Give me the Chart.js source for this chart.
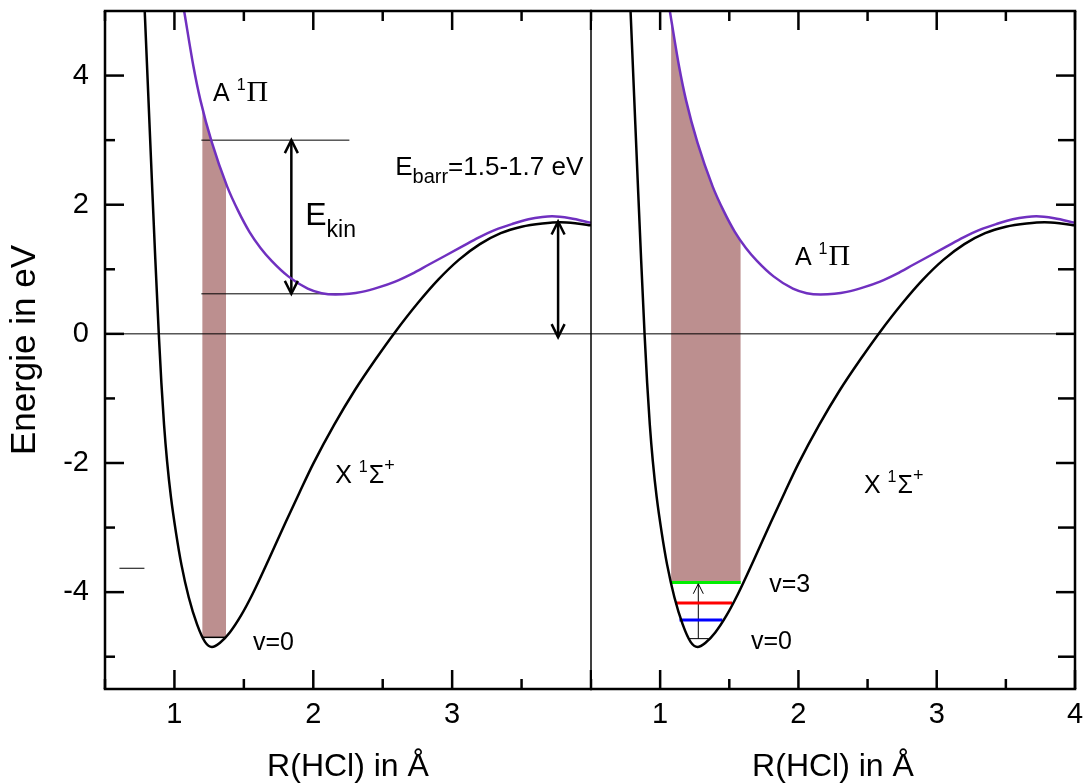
<!DOCTYPE html>
<html lang="de">
<head>
<meta charset="UTF-8">
<title>HCl Potentialkurven</title>
<script src="https://cdn.jsdelivr.net/npm/chart.js@4.4.1/dist/chart.umd.min.js"></script>
<style>
  html, body { margin: 0; padding: 0; background: #fff; }
  #wrap { position: relative; width: 1084px; height: 784px; overflow: hidden; }
  canvas { position: absolute; top: 0; }
  #leftChart { left: 0; }
  #rightChart { left: 590px; }
</style>
</head>
<body>
<div id="wrap">
  <canvas id="leftChart" width="592" height="784"></canvas>
  <canvas id="rightChart" width="494" height="784"></canvas>
</div>
<script>
// X 1Sigma+ ground state (R in Angstrom, E in eV)
const xR = [0.786, 0.812, 0.838, 0.862, 0.888, 0.906, 0.925, 0.947, 0.975, 1.012, 1.05, 1.103, 1.163, 1.22, 1.27, 1.33, 1.40, 1.48, 1.56, 1.68, 1.80, 1.90, 2.00, 2.15, 2.30, 2.45, 2.59, 2.75, 2.90, 3.05, 3.20, 3.35, 3.50, 3.65, 3.78, 3.90, 4.00];
const xE = [5.0, 3.68, 2.36, 1.17, -0.03, -0.76, -1.40, -1.97, -2.53, -3.09, -3.57, -4.08, -4.50, -4.77, -4.85, -4.78, -4.62, -4.36, -4.04, -3.49, -2.92, -2.46, -2.01, -1.41, -0.87, -0.39, 0.03, 0.47, 0.84, 1.15, 1.39, 1.56, 1.66, 1.71, 1.73, 1.71, 1.68];

// A 1Pi excited state
const aR = [1.07, 1.137, 1.187, 1.27, 1.38, 1.46, 1.54, 1.62, 1.70, 1.82, 1.96, 2.06, 2.16, 2.26, 2.35, 2.47, 2.59, 2.71, 2.83, 2.95, 3.07, 3.19, 3.31, 3.43, 3.55, 3.65, 3.72, 3.85, 4.00];
const aE = [5.0, 4.14, 3.62, 2.96, 2.28, 1.90, 1.58, 1.33, 1.13, 0.89, 0.70, 0.63, 0.61, 0.62, 0.65, 0.72, 0.81, 0.93, 1.07, 1.21, 1.35, 1.49, 1.61, 1.70, 1.775, 1.81, 1.82, 1.79, 1.72];

// Franck-Condon windows (edges where the shading meets the A curve)
const fcLeftEdges = [[1.20, 3.52], [1.372, 2.33]];
const fcRightEdges = [[1.079, 4.89], [1.583, 1.45]];
const fcLeftFloor = -4.70;   // v=0
const fcRightFloor = -3.85;  // v=3

// vibrational levels right panel: [Rstart, Rend, E]
const levelV0 = [1.21, 1.35, -4.72];
const levelV1 = [1.14, 1.45, -4.43];
const levelV2 = [1.108, 1.52, -4.17];
const levelV3 = [1.079, 1.583, -3.85];
const levelLeftV0 = [1.20, 1.372, -4.70];

// E_kin reference lines and arrows
const ekinLines = [[1.194, 2.26, 3.0], [1.194, 2.26, 0.62]];
const ekinArrow = [1.842, 3.0, 0.62];      // R, E top, E bottom
const barrArrow = [3.763, 1.74, -0.05];
const pumpArrow = [1.276, -4.72, -3.87];
const strayLine = [0.604, 0.784, -3.63];

// axes
const xMajor = [1, 2, 3, 4];
const xMinor = [0.5, 1.5, 2.5, 3.5];
const yMajor = [-4, -2, 0, 2, 4];
const yMinor = [-5, -3, -1, 1, 3];
const xLabelsLeft = [1, 2, 3];
const xLabelsRight = [1, 2, 3, 4];

const SANS = '"Liberation Sans", Arial, sans-serif';
const SERIF = '"Liberation Serif", "Times New Roman", serif';
Chart.defaults.font.family = SANS;
Chart.defaults.color = '#000';

const PURPLE = '#7030c0';
const FILL = '#bc8f8f';

const pts = (rs, es) => rs.map((r, i) => ({x: r, y: es[i]}));
const seg = (r0, r1, e) => [{x: r0, y: e}, {x: r1, y: e}];
const fcPoints = (edges) => [
  {x: edges[0][0], y: edges[0][1]},
  ...pts(aR, aE).filter(p => p.x > edges[0][0] && p.x < edges[1][0]),
  {x: edges[1][0], y: edges[1][1]}
];

const lineDs = (data, color, width, extra) => Object.assign({
  data, borderColor: color, borderWidth: width, pointRadius: 0,
  fill: false, tension: 0, order: 1
}, extra || {});

// frame + inward ticks
const framePlugin = {
  id: 'frame',
  afterDatasetsDraw(chart, args, o) {
    const {ctx, chartArea: a, scales: {x, y}} = chart;
    ctx.save();
    ctx.strokeStyle = '#000';
    const ln = (x1, y1, x2, y2, w) => {
      ctx.lineWidth = w; ctx.beginPath(); ctx.moveTo(x1, y1); ctx.lineTo(x2, y2); ctx.stroke();
    };
    xMajor.concat(xMinor).forEach(v => {
      const len = xMajor.includes(v) ? 19 : 10;
      const px = x.getPixelForValue(v);
      ln(px, a.bottom, px, a.bottom - len, 2.5);
      ln(px, a.top, px, a.top + len, 2.5);
    });
    yMajor.concat(yMinor).forEach(v => {
      const len = yMajor.includes(v) ? 19 : o.minorY;
      const py = y.getPixelForValue(v);
      if (o.ySide === 'left') ln(a.left, py, a.left + len, py, 2.5);
      else ln(a.right, py, a.right - len, py, 2.5);
    });
    ctx.lineCap = 'square';
    ln(a.left, a.top, a.right, a.top, 2.5);
    ln(a.left, a.bottom, a.right, a.bottom, 2.5);
    ctx.lineCap = 'butt';
    ln(a.left, a.top, a.left, a.bottom, o.left);
    ln(a.right, a.top, a.right, a.bottom, o.right);
    ctx.restore();
  }
};

// open arrow heads on datasets that ask for them
const arrowPlugin = {
  id: 'arrows',
  afterDatasetsDraw(chart) {
    const ctx = chart.ctx;
    chart.data.datasets.forEach((ds, i) => {
      if (!ds.heads) return;
      const el = chart.getDatasetMeta(i).data;
      const p0 = el[0], p1 = el[el.length - 1];
      const head = (tip, from) => {
        const dx = tip.x - from.x, dy = tip.y - from.y, d = Math.hypot(dx, dy);
        const ux = dx / d, uy = dy / d, L = ds.headLen, W = ds.headW;
        ctx.beginPath();
        ctx.moveTo(tip.x - ux * L - uy * W, tip.y - uy * L + ux * W);
        ctx.lineTo(tip.x, tip.y);
        ctx.lineTo(tip.x - ux * L + uy * W, tip.y - uy * L - ux * W);
        ctx.stroke();
      };
      ctx.save();
      ctx.strokeStyle = ds.borderColor;
      ctx.lineWidth = ds.borderWidth;
      ctx.lineJoin = 'miter';
      if (ds.heads.includes('end')) head(p1, p0);
      if (ds.heads.includes('start')) head(p0, p1);
      ctx.restore();
    });
  }
};

// text annotations anchored at data coordinates (left edge, baseline)
const textPlugin = {
  id: 'texts',
  afterDatasetsDraw(chart, args, o) {
    const {ctx, scales: {x, y}} = chart;
    ctx.save();
    ctx.fillStyle = '#000';
    ctx.textBaseline = 'alphabetic';
    ctx.textAlign = 'left';
    o.items.forEach(item => {
      let px = x.getPixelForValue(item.r);
      const py = y.getPixelForValue(item.e);
      item.runs.forEach(run => {
        ctx.font = `${run.size}px ${run.serif ? SERIF : SANS}`;
        ctx.fillText(run.t, px, py + (run.dy || 0));
        px += ctx.measureText(run.t).width + (run.gap || 0);
      });
    });
    ctx.restore();
  }
};

const stateA = [{t: 'A ', size: 25}, {t: '1', size: 16, dy: -11, gap: 1}, {t: 'Π', size: 30, serif: true}];
const stateX = [{t: 'X ', size: 25}, {t: '1', size: 16, dy: -11, gap: 1}, {t: 'Σ', size: 25}, {t: '+', size: 18, dy: -12}];

const xScale = (labels) => ({
  type: 'linear', min: 0.5, max: 4,
  afterBuildTicks: s => { s.ticks = labels.map(v => ({value: v})); },
  afterFit: s => { s.height = 95; s.paddingLeft = 0; s.paddingRight = 0; },
  grid: {display: false}, border: {display: false},
  ticks: {font: {size: 29}, padding: 1, maxRotation: 0},
  title: {display: true, text: 'R(HCl) in Å', font: {size: 32, lineHeight: 1}, padding: {top: 0, bottom: 1}}
});

const commonOpts = {
  responsive: false, animation: false, events: [],
  plugins: {legend: {display: false}, tooltip: {enabled: false}}
};

const curveSets = () => [
  lineDs(seg(0.5, 4, 0), '#000', 1),
  lineDs(pts(xR, xE), '#000', 2.5, {cubicInterpolationMode: 'monotone'}),
  lineDs(pts(aR, aE), PURPLE, 2.5, {cubicInterpolationMode: 'monotone'})
];

// left panel
new Chart(document.getElementById('leftChart'), {
  type: 'line',
  data: {
    datasets: [
      ...curveSets(),
      lineDs(seg(levelLeftV0[0], levelLeftV0[1], levelLeftV0[2]), '#000', 1.5),
      lineDs(seg(ekinLines[0][0], ekinLines[0][1], ekinLines[0][2]), '#000', 1),
      lineDs(seg(ekinLines[1][0], ekinLines[1][1], ekinLines[1][2]), '#000', 1),
      lineDs([{x: ekinArrow[0], y: ekinArrow[1]}, {x: ekinArrow[0], y: ekinArrow[2]}], '#000', 2.5,
        {heads: ['start', 'end'], headLen: 13, headW: 6.5}),
      lineDs([{x: barrArrow[0], y: barrArrow[1]}, {x: barrArrow[0], y: barrArrow[2]}], '#000', 2.5,
        {heads: ['start', 'end'], headLen: 13, headW: 6.5}),
      lineDs(seg(strayLine[0], strayLine[1], strayLine[2]), '#000', 1),
      lineDs(fcPoints(fcLeftEdges), FILL, 0,
        {fill: {value: fcLeftFloor}, backgroundColor: FILL, cubicInterpolationMode: 'monotone', order: 5})
    ]
  },
  options: Object.assign({}, commonOpts, {
    layout: {padding: {left: 0, right: 1, top: 11, bottom: 0}, autoPadding: false},
    scales: {
      x: xScale(xLabelsLeft),
      y: {
        type: 'linear', min: -5.5, max: 5,
        afterBuildTicks: s => { s.ticks = yMajor.map(v => ({value: v})); },
        afterFit: s => { s.width = 105; s.paddingTop = 0; s.paddingBottom = 0; },
        grid: {display: false}, border: {display: false},
        ticks: {font: {size: 29}, padding: 8},
        title: {display: true, text: 'Energie in eV', font: {size: 35, lineHeight: 1}, padding: {top: 8, bottom: 0}}
      }
    },
    plugins: Object.assign({}, commonOpts.plugins, {
      frame: {ySide: 'left', left: 2.5, right: 1, minorY: 10},
      texts: {items: [
        {r: 1.278, e: 3.606, runs: stateA},
        {r: 1.942, e: 1.686, runs: [{t: 'E', size: 32}, {t: 'kin', size: 23, dy: 12}]},
        {r: 2.59, e: 2.46, runs: [{t: 'E', size: 26}, {t: 'barr', size: 20, dy: 8}, {t: '=1.5-1.7 eV', size: 26}]},
        {r: 2.158, e: -2.315, runs: stateX},
        {r: 1.566, e: -4.896, runs: [{t: 'v=0', size: 25}]}
      ]}
    })
  }),
  plugins: [framePlugin, arrowPlugin, textPlugin]
});

// right panel
new Chart(document.getElementById('rightChart'), {
  type: 'line',
  data: {
    datasets: [
      ...curveSets(),
      lineDs(seg(levelV3[0], levelV3[1], levelV3[2]), '#00ee00', 3),
      lineDs(seg(levelV2[0], levelV2[1], levelV2[2]), '#ff0000', 3),
      lineDs(seg(levelV1[0], levelV1[1], levelV1[2]), '#0000ff', 3),
      lineDs(seg(levelV0[0], levelV0[1], levelV0[2]), '#000', 1),
      lineDs([{x: pumpArrow[0], y: pumpArrow[1]}, {x: pumpArrow[0], y: pumpArrow[2]}], '#000', 1,
        {heads: ['end'], headLen: 10, headW: 5}),
      lineDs(fcPoints(fcRightEdges), FILL, 0,
        {fill: {value: fcRightFloor}, backgroundColor: FILL, cubicInterpolationMode: 'monotone', order: 5})
    ]
  },
  options: Object.assign({}, commonOpts, {
    layout: {padding: {left: 1, right: 9, top: 11, bottom: 0}, autoPadding: false},
    scales: {
      x: xScale(xLabelsRight),
      y: {type: 'linear', min: -5.5, max: 5, display: false}
    },
    plugins: Object.assign({}, commonOpts.plugins, {
      frame: {ySide: 'right', left: 1, right: 2.5, minorY: 17},
      texts: {items: [
        {r: 1.975, e: 1.066, runs: stateA},
        {r: 2.474, e: -2.465, runs: stateX},
        {r: 1.789, e: -4.003, runs: [{t: 'v=3', size: 25}]},
        {r: 1.657, e: -4.881, runs: [{t: 'v=0', size: 25}]}
      ]}
    })
  }),
  plugins: [framePlugin, arrowPlugin, textPlugin]
});
</script>
</body>
</html>
